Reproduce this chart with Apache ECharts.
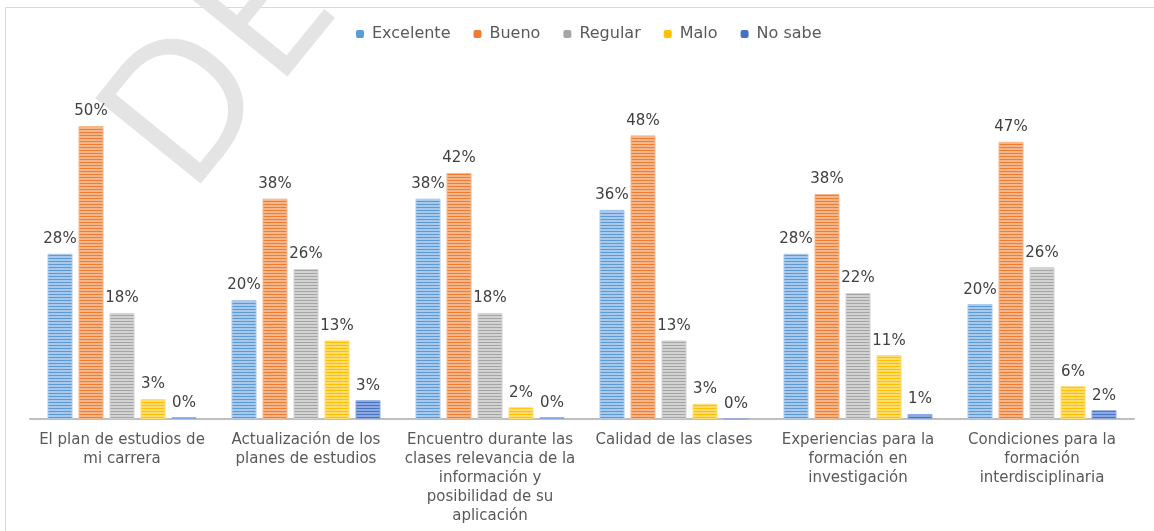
<!DOCTYPE html>
<html>
<head>
<meta charset="utf-8">
<script src="https://cdn.jsdelivr.net/npm/echarts@6/dist/echarts.min.js"></script>
<style>
  html, body { margin: 0; padding: 0; background: #fff; }
  #chart { width: 1154px; height: 531px; }
</style>
</head>
<body>
<div id="chart"></div>
<script>
// categorias del eje x
const categories = [
  "El plan de estudios de\nmi carrera",
  "Actualización de los\nplanes de estudios",
  "Encuentro durante las\nclases relevancia de la\ninformación y\nposibilidad de su\naplicación",
  "Calidad de las clases",
  "Experiencias para la\nformación en\ninvestigación",
  "Condiciones para la\nformación\ninterdisciplinaria"
];
const seriesNames = ["Excelente", "Bueno", "Regular", "Malo", "No sabe"];
const excelente = [28.2, 20.3, 37.6, 35.7, 28.2, 19.6];
const bueno = [50, 37.6, 42, 48.4, 38.4, 47.3];
const regular = [18.1, 25.6, 18.1, 13.4, 21.5, 25.9];
const malo = [3.4, 13.4, 2, 2.6, 10.9, 5.6];
const noSabe = [0.3, 3.2, 0.3, 0, 0.85, 1.5];

const baseColors = ["#5b9bd5", "#ed7d31", "#a5a5a5", "#ffc000", "#4472c4"];
const lightColors = ["#a9c9ec", "#f6b68c", "#d2d2d2", "#ffdc70", "#8ea9e0"];

// rayado horizontal de las barras
function stripes(base, light) {
  let c = document.createElement("canvas");
  c.width = 4;
  c.height = 3;
  let ctx = c.getContext("2d");
  ctx.fillStyle = light;
  ctx.fillRect(0, 0, 4, 3);
  ctx.fillStyle = base;
  ctx.fillRect(0, 0, 4, 1);
  return c;
}

let allData = [excelente, bueno, regular, malo, noSabe];
let series = [];
for (let i = 0; i < seriesNames.length; i++) {
  series.push({
    name: seriesNames[i],
    type: "bar",
    barWidth: 25,
    barGap: "24%",
    itemStyle: {
      color: { image: stripes(baseColors[i], lightColors[i]), repeat: "repeat" },
      borderColor: lightColors[i],
      borderWidth: 1
    },
    label: {
      show: true,
      position: "top",
      distance: 7,
      color: "#404040",
      fontSize: 15,
      fontFamily: "DejaVu Sans",
      formatter: function(p) { return Math.round(p.value) + "%"; }
    },
    data: allData[i]
  });
}

let chart = echarts.init(document.getElementById("chart"), null, { renderer: "canvas" });
chart.setOption({
  animation: false,
  backgroundColor: "#fff",
  graphic: [
    {
      type: "rect",
      z: -10,
      shape: { x: 5.5, y: 7.5, width: 1200, height: 600 },
      style: { fill: "none", stroke: "#d9d9d9", lineWidth: 1 }
    },
    {
      type: "text",
      z: -5,
      x: 147,
      y: 164,
      rotation: 0.89,
      style: {
        text: "DE",
        fontSize: 190,
        fontFamily: "Open Sans",
        fontWeight: "normal",
        fill: "#e4e4e4",
        textAlign: "left",
        textVerticalAlign: "middle"
      }
    }
  ],
  color: baseColors,
  legend: {
    top: 21,
    left: 351,
    itemWidth: 8,
    itemHeight: 8,
    itemGap: 23,
    textStyle: { color: "#595959", fontSize: 16, fontFamily: "DejaVu Sans", padding: [0, 0, 0, 3] },
    data: seriesNames.map(function(n, i) {
      return { name: n, itemStyle: { color: baseColors[i], borderWidth: 0 } };
    })
  },
  grid: { left: 30, right: 20, top: 126, bottom: 112 },
  xAxis: {
    type: "category",
    data: categories,
    axisLine: { lineStyle: { color: "#bfbfbf", width: 2 } },
    axisTick: { show: false },
    axisLabel: {
      interval: 0,
      color: "#595959",
      fontSize: 15,
      fontFamily: "DejaVu Sans",
      lineHeight: 19,
      margin: 12
    }
  },
  yAxis: {
    type: "value",
    min: 0,
    max: 50,
    show: false
  },
  series: series
});
</script>
</body>
</html>
